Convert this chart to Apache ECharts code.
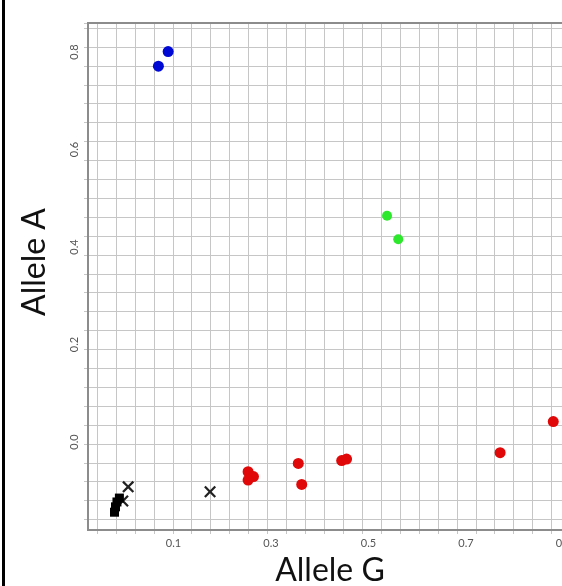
<!DOCTYPE html>
<html>
<head>
<meta charset="utf-8">
<script src="https://cdn.jsdelivr.net/npm/echarts@6/dist/echarts.min.js"></script>
<style>
html,body{margin:0;padding:0;background:#fff;}
#c{width:562px;height:586px;}
</style>
</head>
<body>
<div id="c"></div>
<script>
// Tick labels
const xTickLabels = [0.1, 0.3, 0.5, 0.7, 0.9];
const yTickLabels = [0.0, 0.2, 0.4, 0.6, 0.8];

// Series values [Allele G, Allele A]
const bluePoints = [[0.069, 0.771], [0.089, 0.801]];
const greenPoints = [[0.538, 0.464], [0.561, 0.416]];
const redPoints = [
  [0.253, -0.061], [0.264, -0.071], [0.253, -0.078],
  [0.356, -0.044], [0.363, -0.087],
  [0.445, -0.038], [0.455, -0.035],
  [0.770, -0.022], [0.879, 0.042]
];
const crossPoints = [[0.007, -0.092], [0.175, -0.102], [-0.004, -0.121]];
const squarePoints = [[-0.021, -0.144], [-0.019, -0.133], [-0.016, -0.123], [-0.011, -0.115]];

const chart = echarts.init(document.getElementById('c'), null, {renderer: 'canvas'});

const gridColor = '#c6c6c6';
const axisColor = '#8c8c8c';
const crossPath = 'path://M0,1.6L1.6,0L6,4.4L10.4,0L12,1.6L7.6,6L12,10.4L10.4,12L6,7.6L1.6,12L0,10.4L4.4,6Z';

const option = {
  animation: false,
  backgroundColor: '#ffffff',
  grid: [
    {left: 88, top: 23, width: 495, height: 507, outerBoundsMode: 'none', containLabel: false, show: true, borderColor: axisColor, borderWidth: 2, backgroundColor: 'transparent', z: 3},
    {left: 97, top: 23, width: 486, height: 507, outerBoundsMode: 'none', containLabel: false},
    {left: 88, top: 23, width: 495, height: 496.5, outerBoundsMode: 'none', containLabel: false}
  ],
  xAxis: [
    {
      gridIndex: 0, type: 'value', min: -0.0754, max: 0.94,
      axisLine: {show: true, onZero: false, lineStyle: {color: axisColor, width: 2}},
      axisTick: {show: false},
      splitLine: {show: false},
      axisLabel: {
        customValues: xTickLabels, margin: 8, color: '#555', fontSize: 11,
        fontFamily: 'Lato', formatter: v => v.toFixed(1)
      }
    },
    {
      gridIndex: 1, type: 'value', min: 0, max: 25.66, interval: 1,
      axisLine: {show: false, onZero: false},
      axisTick: {show: true, length: 4, lineStyle: {color: gridColor, width: 1}},
      axisLabel: {show: false},
      splitLine: {show: true, lineStyle: {color: gridColor, width: 1}}
    },
    {gridIndex: 2, type: 'value', show: false, min: 0, max: 1}
  ],
  yAxis: [
    {
      gridIndex: 0, type: 'value', min: -0.1805, max: 0.8595,
      axisLine: {show: true, onZero: false, lineStyle: {color: axisColor, width: 2}},
      axisTick: {show: false},
      splitLine: {show: false},
      axisLabel: {
        customValues: yTickLabels, margin: 8, color: '#555', fontSize: 11,
        fontFamily: 'Lato', rotate: 90, formatter: v => v.toFixed(1)
      }
    },
    {gridIndex: 1, type: 'value', show: false, min: 0, max: 1},
    {
      gridIndex: 2, type: 'value', min: 0, max: 26.27, interval: 1,
      axisLine: {show: false, onZero: false},
      axisTick: {show: true, length: 4, lineStyle: {color: gridColor, width: 1}},
      axisLabel: {show: false},
      splitLine: {show: true, lineStyle: {color: gridColor, width: 1}}
    }
  ],
  graphic: [
    {type: 'rect', left: 2, top: 0, shape: {width: 3, height: 586}, style: {fill: '#000'}},
    {type: 'text', x: 330, y: 571, style: {text: 'Allele G', font: '32px Lato', fill: '#111', align: 'center', verticalAlign: 'middle'}},
    {type: 'text', x: 35, y: 262, rotation: Math.PI / 2, style: {text: 'Allele A', font: '32px Lato', fill: '#111', align: 'center', verticalAlign: 'middle'}}
  ],
  series: [
    {type: 'scatter', xAxisIndex: 0, yAxisIndex: 0, data: bluePoints, symbol: 'circle', symbolSize: 11, itemStyle: {color: '#0008d4', opacity: 1}, z: 5},
    {type: 'scatter', xAxisIndex: 0, yAxisIndex: 0, data: greenPoints, symbol: 'circle', symbolSize: 10, itemStyle: {color: '#2ee82e', opacity: 1}, z: 5},
    {type: 'scatter', xAxisIndex: 0, yAxisIndex: 0, data: redPoints, symbol: 'circle', symbolSize: 11, itemStyle: {color: '#e00808', opacity: 1}, z: 5},
    {type: 'scatter', xAxisIndex: 0, yAxisIndex: 0, data: crossPoints, symbol: crossPath, symbolSize: 12, itemStyle: {color: '#222', opacity: 1}, z: 5},
    {type: 'scatter', xAxisIndex: 0, yAxisIndex: 0, data: squarePoints, symbol: 'rect', symbolSize: 9, itemStyle: {color: '#000', opacity: 1}, z: 5}
  ]
};
chart.setOption(option);
</script>
</body>
</html>
